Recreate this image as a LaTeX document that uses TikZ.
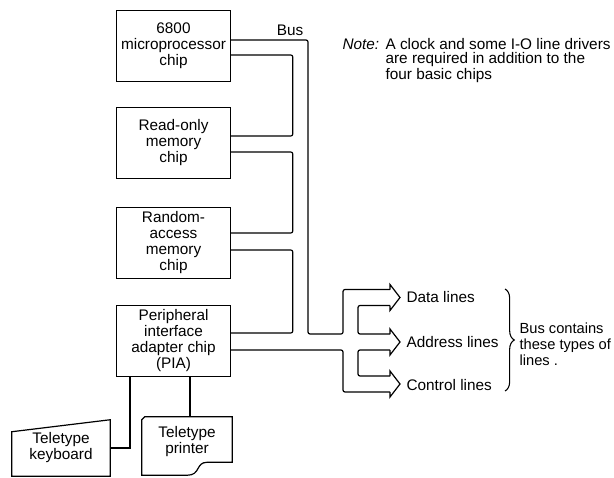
\documentclass[tikz,border=0pt]{standalone}
\usepackage{fontspec}
\setmainfont{Liberation Sans}
\usetikzlibrary{calc, decorations.pathreplacing}
\newcommand{\chipfont}{\fontsize{11.5}{12}\selectfont}
\newcommand{\notefont}{\fontsize{11.5}{10.5}\selectfont}
\newcommand{\sumfont}{\fontsize{11}{12}\selectfont}
\tikzset{
chip/.style={
draw,
line width=0.9pt,
minimum width=85pt,
minimum height=53pt,
align=center,
inner sep=2pt,
font=\chipfont
},
lbl/.style={
font=\chipfont,
align=center,
inner sep=1pt
},
device/.style={
draw,
line width=0.9pt
},
bus/.style={
draw,
line width=0.9pt,
rounded corners=1.5pt
},
wire/.style={
draw,
line width=0.9pt
},
busbrace/.style={
draw,
line width=0.8pt,
decorate,
decoration={brace, amplitude=7pt}
},
bushead/.pic={
\draw[bus, rounded corners=0pt] (-10,-8) -- (-10,-13) -- (0,0) -- (-10,13) -- (-10,8);
}
}

\begin{document}
\begin{tikzpicture}[x=0.75pt, y=-0.75pt]
\useasboundingbox (0,0) rectangle (614,478);

% the four chips
\node[chip] (cpu) at (173.5,46) {6800\\microprocessor\\chip};
\node[chip] (rom) at (173.5,143) {Read-only\\memory\\chip};
\node[chip] (ram) at (173.5,243) {Random-\\access\\memory\\chip};
\node[chip] (pia) at (173.5,341) {Peripheral\\interface\\adapter chip\\(PIA)};

\node[lbl] (buslbl) at (290,30) {Bus};

% bus line types
\node[lbl, anchor=west] (data) at (405,297.5) {Data lines};
\node[lbl, anchor=west] (addr) at (405,342) {Address lines};
\node[lbl, anchor=west] (ctrl) at (405,385) {Control lines};

\coordinate (dataTip) at (400,297.5);
\coordinate (addrTip) at (400,342);
\coordinate (ctrlTip) at (400,384);

% outer rail of the bus
\draw[bus] ($(cpu.east)+(0,-6)$) -| (308,334) -| (343,289.5) -- ($(dataTip)+(-10,-8)$);
% inner rail, chip to chip
\draw[bus] ($(cpu.east)+(0,9)$) -| ($(rom.east)+(62,-7)$) -- ($(rom.east)+(0,-7)$);
\draw[bus] ($(rom.east)+(0,9)$) -| ($(ram.east)+(62,-10)$) -- ($(ram.east)+(0,-10)$);
\draw[bus] ($(ram.east)+(0,7)$) -| ($(pia.east)+(62,-8)$) -- ($(pia.east)+(0,-8)$);
\draw[bus] ($(pia.east)+(0,9)$) -| (343,392) -- ($(ctrlTip)+(-10,8)$);
% between the arrows
\draw[bus] ($(dataTip)+(-10,8)$) -| (358,334) -- ($(addrTip)+(-10,-8)$);
\draw[bus] ($(addrTip)+(-10,8)$) -| (358,376) -- ($(ctrlTip)+(-10,-8)$);

\pic at (dataTip) {bushead};
\pic at (addrTip) {bushead};
\pic at (ctrlTip) {bushead};

\draw[busbrace] (505,289) -- (505,391);
\node[lbl, anchor=west, align=left, font=\sumfont] (summary) at (518,344) {Bus contains\\these types of\\lines .};

% note
\node[lbl, anchor=north west, font=\notefont\itshape] (notehead) at (341,37) {Note:};
\node[lbl, anchor=north west, align=left, font=\notefont] (notebody) at (384,37) {A clock and some I-O line drivers\\are required in addition to the\\four basic chips};

% teletype
\node[lbl, minimum width=73.5pt, minimum height=42pt] (kbd) at (61,448) {Teletype\\keyboard};
\draw[device] (kbd.south west) -- ($(kbd.north west)+(0,12)$) -- (kbd.north east) -- (kbd.south east) -- cycle;

\node[lbl, minimum width=67.5pt, minimum height=37.5pt] (prn) at (187,442) {Teletype\\printer};
\draw[device] ($(prn.south west)+(0,8)$) -- ($(prn.north west)+(0,3)$) -- ($(prn.north west)+(3,0)$) -- (prn.north east) -- ($(prn.south east)+(0,-5)$) -- ++(-25,0) .. controls +(-12,0) and +(14,0) .. ($(prn.south)+(0,8)$) -- cycle;

\coordinate (kbdTap) at ($(pia.south)+(-43.5,0)$);
\coordinate (prnTap) at ($(pia.south)+(16.5,0)$);
\draw[wire] (kbdTap) |- (kbd.east);
\draw[wire] (prnTap) -- (prnTap |- prn.north);

\end{tikzpicture}
\end{document}
